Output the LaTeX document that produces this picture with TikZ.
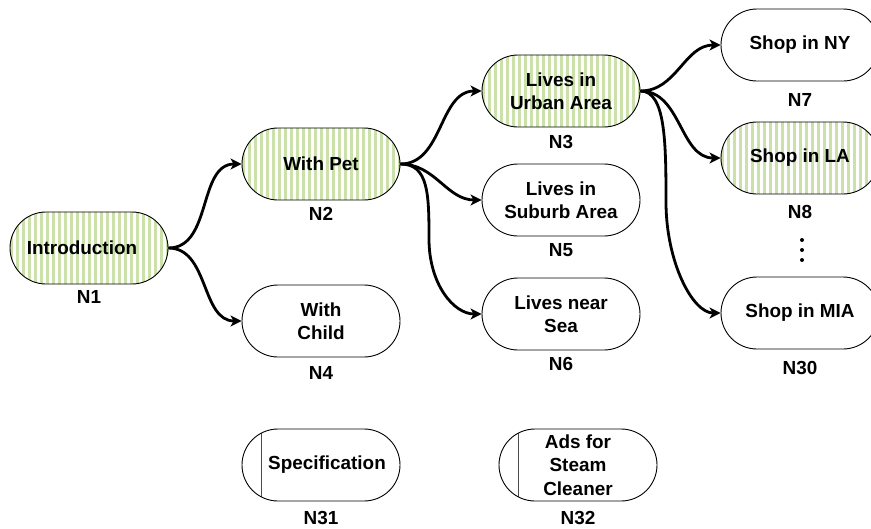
\documentclass[tikz,border=0pt]{standalone}
\usepackage{fontspec}
\setmainfont{Liberation Sans}
\usetikzlibrary{shapes.misc,arrows.meta}
\definecolor{stripegreen}{RGB}{204,224,170}
\tikzset{
  stage/.style={rounded rectangle, draw, line width=0.9pt, minimum width=158pt,
    minimum height=72pt, inner sep=0pt, align=center,
    font=\fontsize{18.9}{23.5}\selectfont\bfseries},
  visited/.style={stage, path picture={
      \foreach \s in {0,6,...,162}
        \fill[stripegreen] ([xshift=\s pt]path picture bounding box.south west) rectangle ++(3pt,80pt);}},
  extra/.style={stage, path picture={
      \draw[black!70, line width=0.9pt] ([xshift=19pt]path picture bounding box.south west) -- ++(0pt,80pt);}},
  tag/.style={font=\fontsize{18.9}{22}\selectfont\bfseries},
  flow/.style={line width=2.8pt, -{Stealth[length=11pt,width=11pt,inset=3pt]}}
}
\begin{document}
\begin{tikzpicture}[x=1pt,y=-1pt]
\useasboundingbox (0,0) rectangle (871,528);

\node[visited] (n1) at (89,248) {Introduction\hspace*{14pt}};
\node[tag] (t1) at (89,297) {N1};

\node[visited] (n2) at (321,164) {With Pet};
\node[tag] (t2) at (321,214) {N2};

\node[stage] (n4) at (321,321) {With\\Child};
\node[tag] (t4) at (321,373) {N4};

\node[visited] (n3) at (561,91) {Lives in\\Urban Area};
\node[tag] (t3) at (561,142) {N3};

\node[stage] (n5) at (561,200) {Lives in\\Suburb Area};
\node[tag] (t5) at (561,250) {N5};

\node[stage] (n6) at (561,314) {Lives near\\Sea};
\node[tag] (t6) at (561,364) {N6};

\node[stage] (n7) at (800,45) {Shop in NY};
\node[tag] (t7) at (800,100) {N7};

\node[visited] (n8) at (800,158) {Shop in LA};
\node[tag] (t8) at (800,212) {N8};

\node[stage] (n30) at (800,313) {Shop in MIA};
\node[tag] (t30) at (800,368) {N30};

\foreach \d in {240,250,260}
  \fill (802,\d) circle (2pt);

\node[extra] (n31) at (321,465) {\hspace*{12pt}Specification};
\node[tag] (t31) at (321,518) {N31};

\node[extra] (n32) at (578,465) {Ads for\\Steam\\Cleaner};
\node[tag] (t32) at (578,518) {N32};

% connectors
\coordinate (m6) at (429,239);
\coordinate (m30) at (666,202);
\draw[flow] (n1.east) to[out=0,in=180] (n2.west);
\draw[flow] (n1.east) to[out=0,in=180] (n4.west);
\draw[flow] (n2.east) to[out=0,in=180] (n3.west);
\draw[flow] (n2.east) to[out=0,in=180] (n5.west);
\draw[flow] (n2.east) .. controls +(28,0) and +(0,-45) .. (m6)
  .. controls +(0,45) and +(-28,0) .. (n6.west);
\draw[flow] (n3.east) to[out=0,in=180] (n7.west);
\draw[flow] (n3.east) to[out=0,in=180] (n8.west);
\draw[flow] (n3.east) .. controls +(25,0) and +(0,-60) .. (m30)
  .. controls +(0,60) and +(-28,0) .. (n30.west);
\end{tikzpicture}
\end{document}
